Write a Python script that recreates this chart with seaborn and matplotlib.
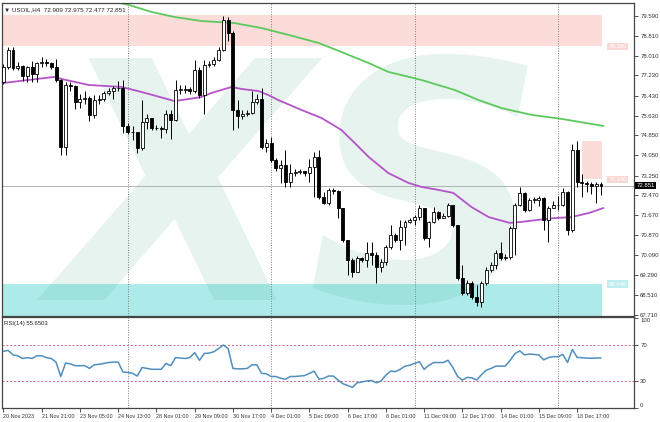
import numpy as np
import pandas as pd
import seaborn as sns
import matplotlib.pyplot as plt
from matplotlib import transforms

# USOIL H4 candles (open of each bar = close of the bar before)
first_open = 76.95
closes = [77.55, 78.24, 77.52, 77.60, 77.20, 77.56, 77.30, 77.72, 77.77, 77.74,
          77.55, 77.05, 74.40, 76.85, 76.80, 76.17, 76.30, 76.32, 75.65, 76.25,
          76.30, 76.52, 76.60, 76.72, 76.72, 75.20, 74.97, 74.98, 74.35, 75.37,
          75.55, 75.13, 75.15, 75.10, 75.70, 75.45, 76.65, 76.65, 76.70, 76.60,
          77.44, 76.45, 77.64, 77.70, 77.84, 78.24, 79.43, 78.90, 75.86, 75.60,
          75.70, 75.75, 76.18, 76.30, 74.40, 74.55, 73.87, 73.55, 73.67, 72.99,
          73.35, 73.38, 73.42, 73.35, 73.59, 73.99, 72.40, 72.16, 72.68, 72.64,
          71.96, 70.69, 69.90, 69.42, 69.98, 69.90, 70.17, 70.10, 69.62, 69.82,
          70.41, 70.89, 70.69, 71.21, 71.41, 71.48, 71.60, 71.96, 70.77, 71.41,
          71.80, 71.56, 71.66, 72.08, 71.29, 69.18, 68.60, 68.98, 68.44, 68.23,
          68.98, 69.50, 69.70, 70.17, 69.98, 70.02, 71.17, 72.08, 72.56, 71.88,
          72.28, 72.28, 72.36, 71.48, 71.96, 72.08, 72.10, 72.60, 71.09, 74.27,
          72.99, 72.96, 72.90, 72.82, 72.91, 72.851]
highs = [77.70, 78.36, 78.35, 77.76, 77.66, 77.62, 77.80, 77.78, 77.95, 77.90,
         77.78, 77.90, 77.10, 76.95, 76.95, 76.85, 76.50, 76.60, 76.40, 76.45,
         76.45, 76.60, 76.72, 76.80, 77.00, 77.05, 75.35, 75.20, 75.00, 76.25,
         75.70, 75.55, 75.25, 75.20, 75.85, 75.85, 77.05, 76.85, 76.85, 76.75,
         77.84, 77.55, 77.84, 77.80, 77.95, 78.36, 79.60, 79.55, 79.00, 76.25,
         75.85, 75.85, 76.60, 76.50, 76.72, 74.70, 74.80, 73.95, 73.87, 74.27,
         73.70, 73.50, 73.50, 73.45, 73.90, 74.20, 74.27, 72.60, 72.75, 72.75,
         72.68, 71.96, 70.69, 69.98, 70.05, 70.00, 70.60, 70.60, 70.21, 69.95,
         70.50, 71.30, 70.95, 71.50, 71.50, 71.55, 71.70, 72.10, 71.98, 71.45,
         72.00, 71.85, 71.75, 72.15, 72.10, 71.30, 69.70, 69.10, 69.05, 68.90,
         69.05, 69.60, 69.80, 70.30, 70.60, 70.15, 71.25, 72.15, 72.80, 72.60,
         72.35, 72.40, 72.45, 72.40, 72.05, 72.25, 72.45, 72.75, 72.65, 74.50,
         74.62, 73.30, 73.05, 72.98, 73.00, 72.975]
lows = [76.90, 77.50, 77.45, 77.45, 77.00, 76.97, 76.97, 76.95, 77.55, 77.60,
        77.50, 76.97, 74.05, 74.05, 76.60, 75.90, 75.95, 76.10, 75.40, 75.55,
        76.10, 76.20, 76.45, 76.30, 76.60, 74.95, 74.90, 74.65, 74.15, 74.25,
        75.10, 75.05, 75.05, 74.75, 74.95, 74.70, 75.40, 76.50, 76.55, 76.50,
        76.55, 76.35, 75.70, 77.55, 77.60, 77.80, 78.20, 78.60, 75.06, 75.15,
        75.50, 75.60, 75.70, 76.10, 74.30, 74.20, 73.80, 73.45, 72.96, 72.80,
        72.80, 73.25, 73.30, 73.25, 73.00, 72.40, 72.30, 72.12, 72.10, 72.50,
        71.56, 70.60, 69.30, 69.20, 69.40, 69.80, 69.60, 69.70, 68.98, 69.40,
        69.70, 70.35, 70.60, 70.30, 70.50, 71.35, 71.30, 71.50, 70.70, 70.40,
        71.35, 71.50, 71.55, 71.60, 71.20, 69.10, 68.50, 68.50, 68.35, 68.05,
        68.03, 68.90, 69.40, 69.55, 69.90, 69.90, 69.95, 70.10, 72.05, 71.80,
        71.85, 72.15, 72.05, 71.09, 70.61, 71.95, 71.90, 72.05, 70.90, 71.00,
        72.80, 72.40, 72.60, 72.50, 72.16, 72.477]

rsi = [63, 64, 59, 58, 55, 56, 55, 58, 58, 56,
       55, 51, 35, 50, 49, 47, 47, 47, 44, 48,
       48.5, 49.5, 50.5, 51, 51, 40, 39.5, 38.5, 35.5, 45,
       44, 43, 43, 43, 49.5, 47, 56, 55.5, 55, 56,
       61.5, 53, 60.5, 61, 62.5, 66, 70, 66, 44, 43.5,
       43.5, 44, 48, 48, 38.5, 38, 35, 35, 33, 32,
       35, 35, 35.5, 36, 38.5, 41, 32, 33, 35.5, 35.5,
       31, 27, 25, 23, 28, 29, 30, 30.5, 28, 30,
       36.5, 41, 40.5, 43, 46.5, 47.5, 49.5, 51.5, 43, 47.5,
       50.5, 50.5, 50.5, 53, 45, 35, 31, 34, 33.5, 31,
       37, 42, 44, 46.5, 46.5, 46.7, 53, 60.5, 63.5, 59,
       60, 59.5, 59, 53.5, 56, 57, 57, 59.5, 50.5, 65,
       56.3, 55.9, 55.4, 55.3, 55.5, 55.65]

# moving averages (read at points along the lines)
ma_fast_idx = [0, 10.7, 12.1, 17.8, 24.7, 28.9, 35.8, 38.7, 41.4, 43.5, 45.6, 47.7,
               49.8, 53.3, 55.4, 57.5, 62.3, 66.5, 70.7, 74.3, 76.4, 80.5, 84.7,
               87.4, 91.0, 94.1, 97.9, 101.5, 105.9, 108.4, 111.9, 115.3, 118.8,
               122.4, 125.5]
ma_fast_val = [76.93, 77.17, 77.09, 76.85, 76.77, 76.57, 76.21, 76.29, 76.37, 76.53,
               76.65, 76.77, 76.69, 76.61, 76.45, 76.25, 75.86, 75.54, 75.06, 74.39,
               73.99, 73.35, 72.96, 72.80, 72.68, 72.56, 72.00, 71.60, 71.37, 71.41,
               71.49, 71.56, 71.60, 71.76, 71.96]
ma_slow_idx = [21.5, 26.2, 31.0, 35.8, 41.4, 48.3, 54.0, 59.6, 65.9, 70.7, 76.4,
               80.5, 87.4, 94.4, 99.4, 104.2, 110.5, 116.8, 125.5]
ma_slow_val = [80.23, 80.03, 79.75, 79.55, 79.39, 79.31, 79.11, 78.84, 78.52, 78.16,
               77.72, 77.37, 77.05, 76.65, 76.25, 75.93, 75.66, 75.50, 75.22]

supply_zone = (78.38, 79.61)
supply_zone2 = (73.10, 74.62)
demand_zone = (67.60, 68.94)
zone_end = 125.3
zone2_start = 121.1

price_ticks = [79.59, 78.81, 78.01, 77.23, 76.43, 75.63, 74.85, 74.05, 73.25,
               72.47, 71.67, 70.87, 70.09, 69.29, 68.51, 67.71]
week_lines = [26, 56, 86, 116]
time_idx = [0, 8, 16, 24, 32, 40, 48, 56, 64, 72, 80, 88, 96, 104, 112, 120]
time_labels = ['20 Nov 2023', '21 Nov 21:00', '23 Nov 05:00', '24 Nov 13:00',
               '28 Nov 01:00', '29 Nov 09:00', '30 Nov 17:00', '4 Dec 01:00',
               '5 Dec 09:00', '6 Dec 17:00', '8 Dec 01:00', '11 Dec 09:00',
               '12 Dec 17:00', '14 Dec 01:00', '15 Dec 09:00', '18 Dec 17:00']
last_price = 72.851

sns.set_theme(style='white')
plt.rcParams['font.family'] = ['Liberation Sans', 'DejaVu Sans']

df = pd.DataFrame({'close': closes, 'high': highs, 'low': lows, 'rsi': rsi})
df['open'] = [first_open] + closes[:-1]
df['idx'] = np.arange(len(df))

fig = plt.figure(figsize=(6.6, 4.22), dpi=100)
fig.patch.set_facecolor('white')
ax = fig.add_axes([2/660, 1 - 316/422, 632/660, 313/422])
ax_rsi = fig.add_axes([2/660, 1 - 408/422, 632/660, 91/422])

# zones
pink = '#fcdcd8'
ax.fill_between([-1, zone_end], *supply_zone, color=pink, lw=0, zorder=0.5)
ax.fill_between([zone2_start, zone_end], *supply_zone2, color=pink, lw=0, zorder=0.5)
ax.fill_between([-1, zone_end], *demand_zone, color='#acebea', lw=0, zorder=0.5)

# watermark
ax.text(300/660, 1 - 300/422, 'XS', transform=fig.transFigure, fontsize=238,
        fontweight='bold', fontstyle='italic', family='DejaVu Sans',
        color='#3fa67f', alpha=0.13, ha='center', va='baseline', zorder=0.8)

for s in week_lines:
    ax.axvline(s, color='#808080', lw=0.7, ls=(0, (1, 1.5)), zorder=1)
    ax_rsi.axvline(s, color='#808080', lw=0.7, ls=(0, (1, 1.5)), zorder=1)
ax.axhline(last_price, color='#a8a8a8', lw=0.6, zorder=1)

# moving averages
sns.lineplot(x=ma_slow_idx, y=ma_slow_val, ax=ax, color='#5cc95c', lw=1.3, zorder=2)
sns.lineplot(x=ma_fast_idx, y=ma_fast_val, ax=ax, color='#b553c9', lw=1.3, zorder=2)

# candles
up = df['close'] >= df['open']
body_lo = np.minimum(df['open'], df['close'])
body_h = np.maximum((df['close'] - df['open']).abs(), 0.02)
ax.vlines(df['idx'], df['low'], df['high'], color='black', lw=0.7, zorder=3)
ax.bar(df['idx'], body_h, bottom=body_lo, width=0.62,
       color=np.where(up, 'white', 'black'), edgecolor='black', linewidth=0.6, zorder=4)

ax.set_xlim(-0.3, 131.9)
ax.set_ylim(67.67, 80.106)
ax.set_xticks([])
ax.set_xlabel('')
ax.set_ylabel('')
ax.yaxis.tick_right()
ax.set_yticks(price_ticks, [f'{v:.3f}' for v in price_ticks])
ax.tick_params(axis='y', labelsize=4.3, length=3, width=0.6, pad=1.5,
               colors='#333333', right=True)

blend = transforms.blended_transform_factory(ax.transAxes, ax.transData)
ax.text(1.004, last_price, f'{last_price:.3f}', transform=blend, va='center', ha='left',
        fontsize=4.3, color='white',
        bbox=dict(boxstyle='square,pad=0.2', fc='black', ec='none'))
for y, txt, fc in [(supply_zone[0], '78.380', '#f8d8d4'),
                   (supply_zone2[0], '73.100', '#f8d8d4'),
                   (demand_zone[1], '68.940', '#bfeeee')]:
    ax.text(126.6, y, txt, va='center', ha='left', fontsize=4.3, color='white',
            bbox=dict(boxstyle='square,pad=0.2', fc=fc, ec='none'), zorder=5)

ax.text(0.003, 0.978, '▼ USOIL,H4  72.909 72.975 72.477 72.851', transform=ax.transAxes,
        fontsize=4.5, va='center', ha='left', color='#222222')

# RSI panel
sns.lineplot(x=df['idx'], y=df['rsi'], ax=ax_rsi, color='#4f8fbf', lw=1.1, zorder=3)
for lvl in (70, 30):
    ax_rsi.axhline(lvl, color='#d0628a', lw=0.7, ls=(0, (2, 2)), zorder=2)
ax_rsi.set_xlim(-0.3, 131.9)
ax_rsi.set_ylim(0, 101.1)
ax_rsi.set_xlabel('')
ax_rsi.set_ylabel('')
ax_rsi.yaxis.tick_right()
ax_rsi.set_yticks([0, 30, 70, 100], ['0', '30', '70', '100'])
ax_rsi.tick_params(axis='y', labelsize=4.3, length=3, width=0.6, pad=1.5,
                   colors='#333333', right=True)
ylabs = ax_rsi.get_yticklabels()
ylabs[0].set_va('bottom')
ylabs[-1].set_va('top')
ax_rsi.set_xticks(time_idx, time_labels, ha='left')
ax_rsi.tick_params(axis='x', labelsize=3.9, length=3, width=0.6, pad=1.5,
                   colors='#333333', bottom=True)
ax_rsi.text(0.003, 0.925, 'RSI(14) 55.6503', transform=ax_rsi.transAxes,
            fontsize=4.3, va='center', ha='left', color='#222222')

for a in (ax, ax_rsi):
    for sp in a.spines.values():
        sp.set_color('#454545')
        sp.set_linewidth(0.9)

fig.savefig('out.png', dpi=100, facecolor='white')
